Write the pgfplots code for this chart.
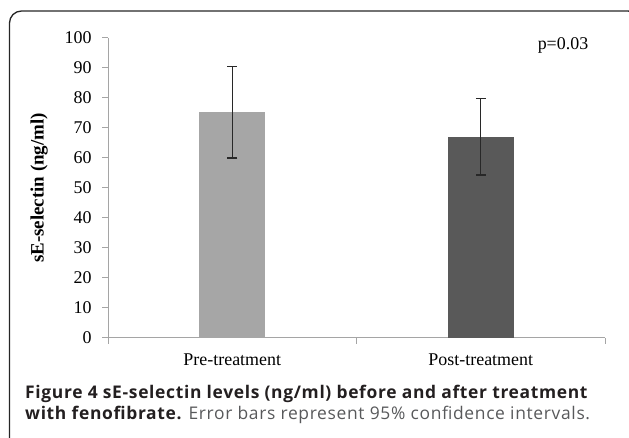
\documentclass[border=0pt]{standalone}
\usepackage{pgfplots}
\pgfplotsset{compat=1.18}
\usepackage{fontspec}
\setmainfont{Liberation Serif}
\newfontfamily\capfont[LetterSpace=3.8]{Open Sans}
\definecolor{prebar}{RGB}{166,166,166}
\definecolor{postbar}{RGB}{89,89,89}
\definecolor{axgray}{RGB}{165,165,165}
\definecolor{errc}{RGB}{40,40,40}
\definecolor{captxt}{RGB}{35,31,32}
\definecolor{capgray}{RGB}{88,89,91}

\begin{document}
\begin{tikzpicture}[x=1bp,y=1bp]
\useasboundingbox (0,0) rectangle (629,438);
% rounded frame around figure
\draw[line width=1.3bp, black!85, rounded corners=12bp] (9.5,-10) -- (9.5,427) -- (640,427) -- (640,380);

\begin{axis}[
    at={(108bp,100bp)}, anchor=south west,
    scale only axis, width=497bp, height=300bp,
    xmin=-0.5, xmax=1.5, ymin=0, ymax=100,
    ybar, bar width=66bp,
    axis lines*=left,
    axis line style={draw=axgray, line width=1bp},
    every tick/.style={draw=axgray, line width=1bp},
    tick align=outside, major tick length=6bp,
    ytick distance=10,
    xtick={-0.5,0.5,1.5}, xticklabels={},
    extra x ticks={0,1},
    extra x tick labels={Pre-treatment, Post-treatment},
    extra x tick style={major tick length=0pt},
    ticklabel style={font=\fontsize{18}{20}\selectfont},
    /pgf/number format/assume math mode=true,
    yticklabel style={xshift=-7bp},
    xticklabel style={yshift=-12bp},
    ylabel={\textbf{sE-selectin (ng/ml)}},
    ylabel style={font=\fontsize{19}{21}\selectfont, yshift=10bp},
    clip=false,
]
\addplot[fill=prebar, draw=none, bar shift=0pt,
    error bars/.cd, y dir=both, y explicit,
    error bar style={errc, line width=1.2bp},
    error mark options={rotate=90, mark size=5bp, errc, line width=1.2bp}]
    coordinates {(0,75.3) +- (0,15.3)};
\addplot[fill=postbar, draw=none, bar shift=0pt,
    error bars/.cd, y dir=both, y explicit,
    error bar style={errc, line width=1.2bp},
    error mark options={rotate=90, mark size=5bp, errc, line width=1.2bp}]
    coordinates {(1,67.0) +- (0,12.7)};
\end{axis}

\node[anchor=base, font=\fontsize{18}{20}\selectfont] at (563,388) {p=0.03};

\node[anchor=base west, inner sep=0, font=\capfont\bfseries\fontsize{17.5}{20}\selectfont, text=captxt]
    at (25,39) {Figure 4 sE-selectin levels (ng/ml) before and after treatment};
\node[anchor=base west, inner sep=0, font=\capfont\fontsize{17.5}{20}\selectfont, text=capgray]
    at (25,18) {\textbf{\color{captxt}with fenofibrate.} Error bars represent 95\% confidence intervals.};
\end{tikzpicture}
\end{document}
